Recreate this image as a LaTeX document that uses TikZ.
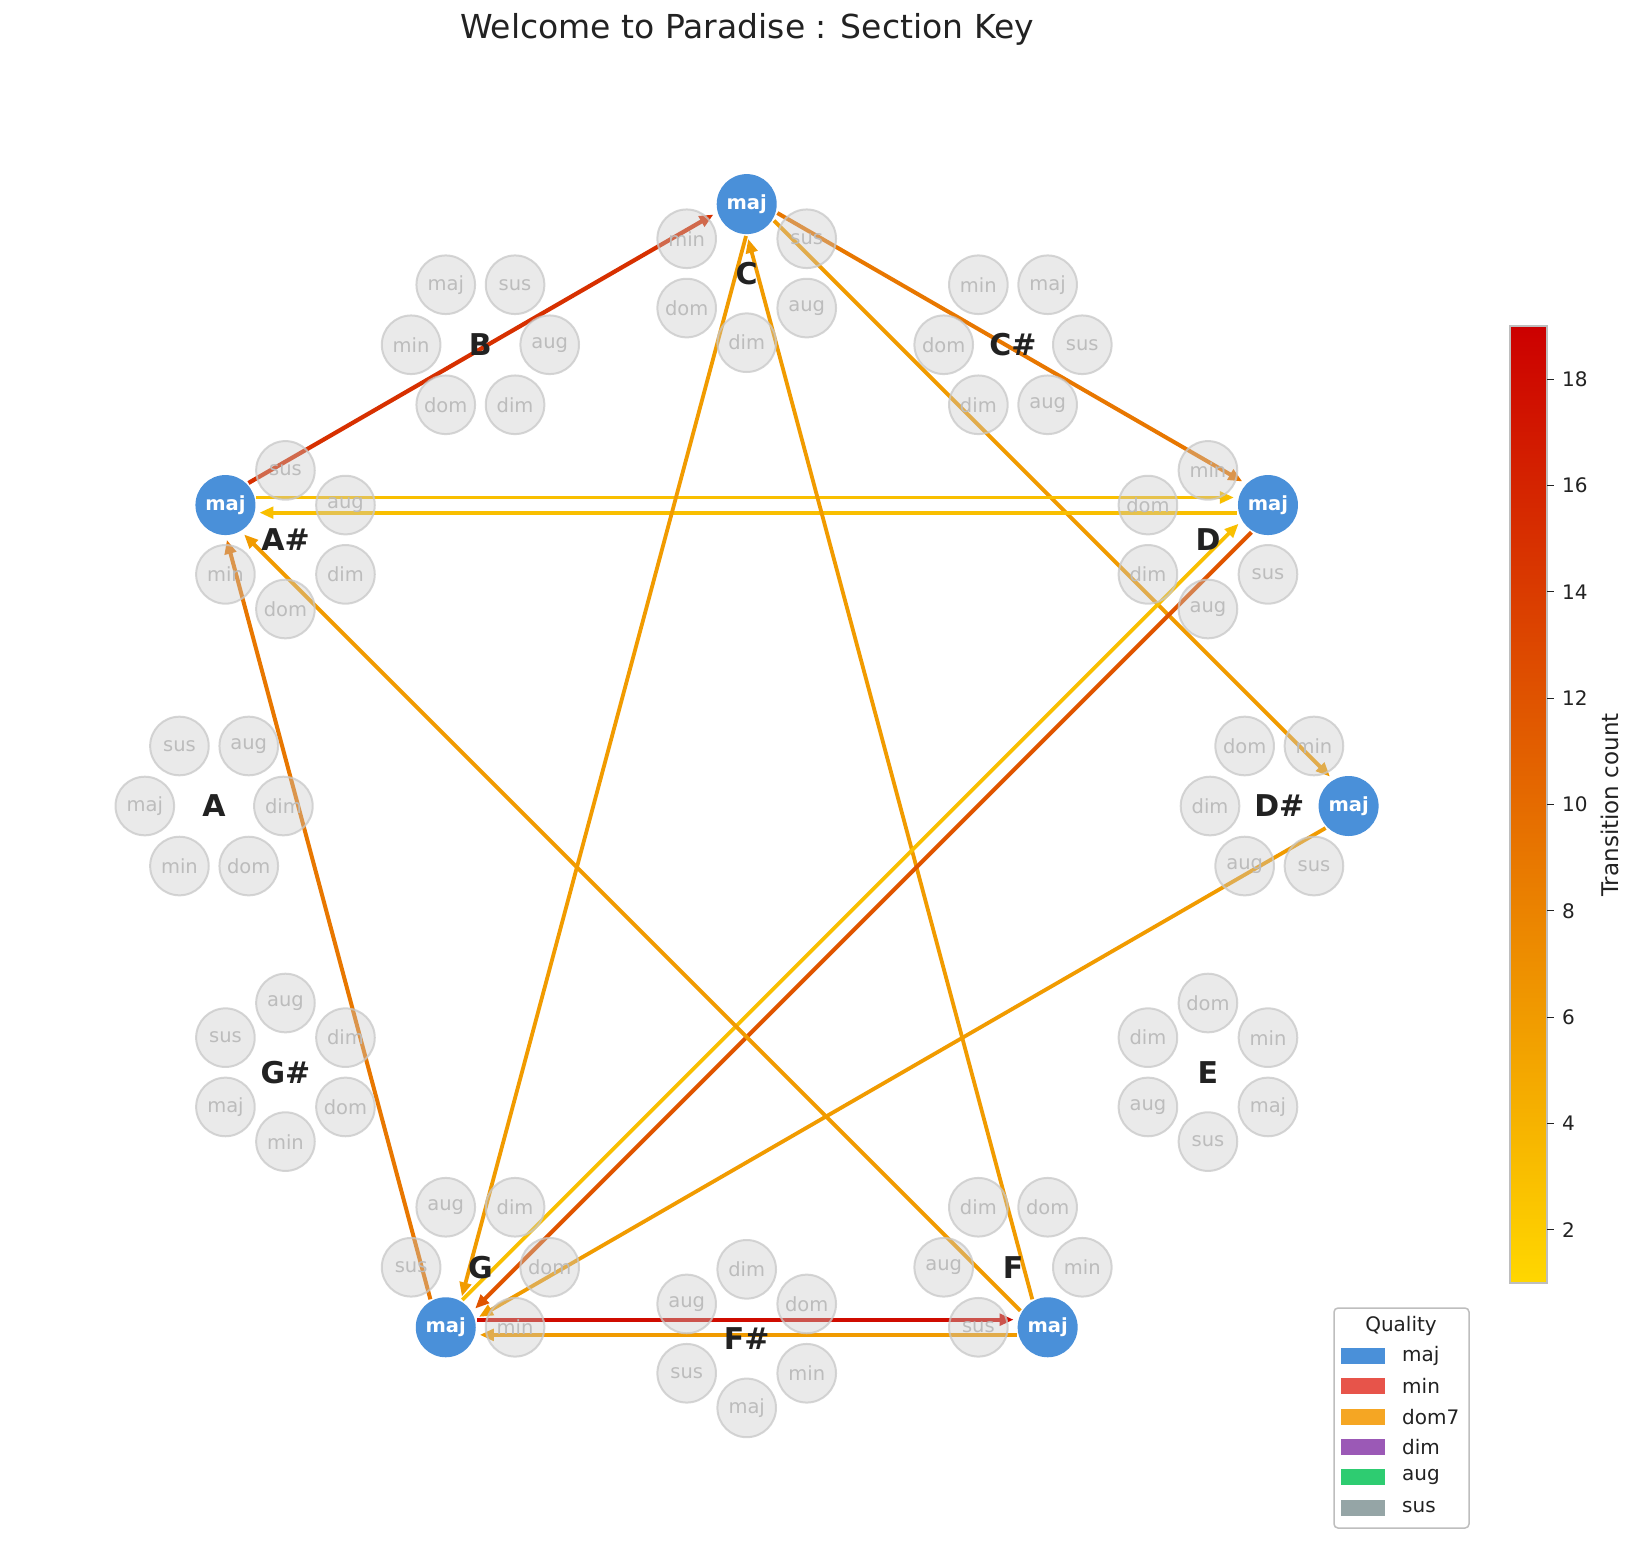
\documentclass[tikz,border=0pt]{standalone}
\usepackage{fontspec}
\setmainfont{DejaVu Sans}
\usetikzlibrary{arrows.meta,calc}
\pgfdeclarelayer{bglayer}
\pgfdeclarelayer{edgelayer}
\pgfsetlayers{bglayer,edgelayer,main}
\definecolor{v3}{RGB}{249,191,0}
\definecolor{v6}{RGB}{241,155,0}
\definecolor{v9}{RGB}{232,119,0}
\definecolor{v12}{RGB}{224,84,0}
\definecolor{v15}{RGB}{215,48,0}
\definecolor{v18}{RGB}{207,12,0}
\definecolor{majblue}{RGB}{74,144,217}
\definecolor{qfill}{RGB}{200,200,200}
\definecolor{qedge}{RGB}{200,200,200}
\definecolor{qtext}{RGB}{188,188,188}
\definecolor{ink}{RGB}{34,34,34}
\definecolor{lmin}{RGB}{231,84,74}
\definecolor{ldom}{RGB}{245,166,35}
\definecolor{ldim}{RGB}{155,89,182}
\definecolor{laug}{RGB}{46,204,113}
\definecolor{lsus}{RGB}{149,165,166}
\definecolor{cbtop}{RGB}{204,0,0}
\definecolor{cbbot}{RGB}{255,215,0}
\definecolor{frame}{RGB}{190,190,190}
\tikzset{
  qnode/.style={circle, minimum size=58.6pt, inner sep=0pt, fill=qfill, fill opacity=0.38,
    draw=qedge, draw opacity=0.75, line width=2pt, text opacity=1, text=qtext,
    font=\fontsize{19.5}{21}\selectfont},
  majnode/.style={circle, minimum size=60pt, inner sep=0pt, fill=majblue, draw=none,
    text=white, font=\fontsize{19.5}{21}\selectfont\bfseries},
  keylabel/.style={inner sep=0pt, text=ink, font=\fontsize{30}{34}\selectfont\bfseries},
  trans/.style={line width=3.8pt, -{Triangle[length=14pt,width=11.5pt]}, shorten <=31pt, shorten >=34pt},
  legtext/.style={anchor=west, inner sep=0pt, text=ink, font=\fontsize{20}{22}\selectfont},
  legpatch/.style={minimum width=44pt, minimum height=16pt, inner sep=0pt, draw=none},
  ticklab/.style={anchor=west, inner sep=0pt, text=ink, font=\fontsize{20}{22}\selectfont}
}
% directed transition, shifted 7.6pt to the left of its direction
\newcommand\tedge[3]{\draw[trans,#1] ($(#2.center)!7.6pt!90:(#3.center)$) -- ($(#3.center)!7.6pt!-90:(#2.center)$);}
\begin{document}
\begin{tikzpicture}[x=1pt,y=-1pt]
\useasboundingbox (0,0) rectangle (1635,1553);
\begin{pgfonlayer}{bglayer}
\fill[white] (0,0) rectangle (1635,1553);
\end{pgfonlayer}

% title
\node[text=ink, font=\fontsize{33}{38}\selectfont, inner sep=0pt] (title) at (747,29) {Welcome to Paradise : Section Key};

% key clusters
\foreach \k/\lab/\act in {0/C/1,1/C\#/0,2/D/1,3/D\#/1,4/E/0,5/F/1,6/F\#/0,7/G/1,8/G\#/0,9/A/0,10/A\#/1,11/B/0}{
  \pgfmathsetmacro\ka{90-30*\k}
  \pgfmathsetmacro\cx{746.7+532.6*cos(\ka)}
  \pgfmathsetmacro\cy{806-532.6*sin(\ka)}
  \foreach \j/\q in {0/maj,1/min,2/dom,3/dim,4/aug,5/sus}{
    \pgfmathsetmacro\qa{\ka+60*\j}
    \pgfmathsetmacro\qx{\cx+69.3*cos(\qa)}
    \pgfmathsetmacro\qy{\cy-69.3*sin(\qa)}
    \pgfmathtruncatemacro\isblue{and(\j==0,\act==1)}
    \ifnum\isblue=1
      \node[majnode] (m\k) at (\qx,\qy) {maj};
    \else
      \node[qnode] (q\k\q) at (\qx,\qy) {\q};
    \fi
  }
  \node[keylabel] (key\k) at (\cx,\cy) {\lab};
}

% transitions
\begin{pgfonlayer}{edgelayer}
\tedge{v15, line width=4.2pt}{m10}{m0}
\tedge{v9, line width=4pt}{m0}{m2}
\tedge{v6}{m0}{m3}
\tedge{v3}{m10}{m2}
\tedge{v3}{m2}{m10}
\tedge{v6}{m0}{m7}
\tedge{v6}{m5}{m0}
\tedge{v3}{m7}{m2}
\tedge{v12, line width=4pt}{m2}{m7}
\tedge{v6}{m3}{m7}
\tedge{v18, line width=4.2pt}{m7}{m5}
\tedge{v6}{m5}{m7}
\tedge{v9, line width=4pt}{m7}{m10}
\tedge{v6}{m5}{m10}
\end{pgfonlayer}

% legend
\draw[frame, line width=1.5pt, rounded corners=4pt, fill=white] (1334,1308) rectangle (1469,1528);
\node[text=ink, font=\fontsize{20}{22}\selectfont, inner sep=0pt] (legtitle) at (1401,1326) {Quality};
\foreach \i/\c/\t in {0/majblue/maj,1/lmin/min,2/ldom/dom7,3/ldim/dim,4/laug/aug,5/lsus/sus}{
  \node[legpatch, fill=\c] (lp\i) at (1363,{1356+30.3*\i}) {};
  \node[legtext] (lt\i) at (1402,{1356+30.3*\i}) {\t};
}

% colorbar
\shade[top color=cbtop, bottom color=cbbot, middle color={rgb,255:red,229;green,107;blue,0}] (1510,326) rectangle (1547,1283);
\draw[frame, line width=1.5pt] (1510,326) rectangle (1547,1283);
\foreach \v in {2,4,...,18}{
  \draw[ink, line width=1.2pt] (1547,{1283-(\v-1)*53.17}) -- (1554,{1283-(\v-1)*53.17});
  \node[ticklab] (tk\v) at (1562,{1283-(\v-1)*53.17}) {\v};
}
\node[rotate=90, text=ink, font=\fontsize{23}{26}\selectfont, inner sep=0pt] (cblabel) at (1610,805) {Transition count};
\end{tikzpicture}
\end{document}
